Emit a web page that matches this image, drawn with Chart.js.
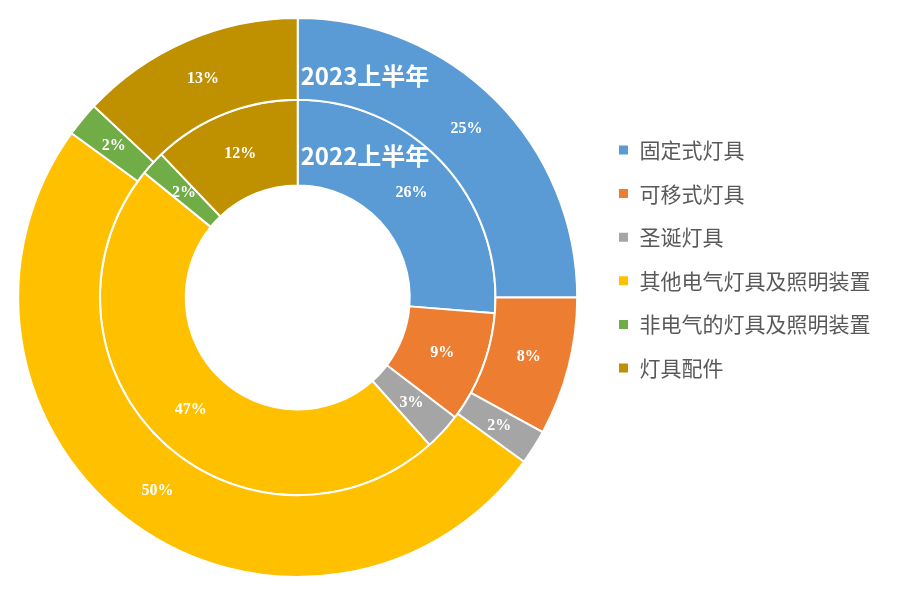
<!DOCTYPE html>
<html>
<head>
<meta charset="utf-8">
<script src="https://cdn.jsdelivr.net/npm/chart.js@4"></script>
<style>
body{margin:0;background:#fff;}
</style>
</head>
<body>
<canvas id="lampChart" width="900" height="589"></canvas>
<script>

const categories = ["固定式灯具","可移式灯具","圣诞灯具","其他电气灯具及照明装置","非电气的灯具及照明装置","灯具配件"];
const share2023 = [25,8,2,50,2,13];
const share2022 = [26,9,3,47,2,12];
const ringNames = ["2023上半年","2022上半年"];
const colors = ["#5B9BD5","#ED7D31","#A5A5A5","#FFC000","#70AD47","#BF9000"];

/* процентні підписи на сегментах */
const pctLabels = {
id:"pctLabels",
afterDatasetsDraw(chart){
const ctx = chart.ctx;
ctx.save();
ctx.fillStyle = "#ffffff";
ctx.font = "bold 16px 'Liberation Serif'";
ctx.textAlign = "center";
ctx.textBaseline = "middle";
chart.data.datasets.forEach((ds,di)=>{
const meta = chart.getDatasetMeta(di);
meta.data.forEach((arc,i)=>{
const p = arc.tooltipPosition();
ctx.fillText(ds.data[i] + "%", p.x, p.y);
});
});

/* назви кілець */
ctx.font = "bold 24px 'Noto Sans CJK SC'";
ctx.textAlign = "left";
const outer = chart.getDatasetMeta(0).data[0];
const inner = chart.getDatasetMeta(1).data[0];
ctx.fillText(ringNames[0], outer.x + 3, outer.y - (outer.innerRadius + 24));
ctx.fillText(ringNames[1], inner.x + 3, inner.y - (inner.innerRadius + 30));
ctx.restore();
}
};

new Chart(document.getElementById("lampChart"),{
type:"doughnut",
data:{
labels:categories,
datasets:[{
label:ringNames[0],
data:share2023,
backgroundColor:colors,
borderColor:"#ffffff",
borderWidth:2,
weight:82
},{
label:ringNames[1],
data:share2022,
backgroundColor:colors,
borderColor:"#ffffff",
borderWidth:2,
weight:86
}]
},
options:{
responsive:false,
animation:false,
cutout:112,
layout:{padding:{left:-9.4,right:19.5,top:17,bottom:11}},
plugins:{
tooltip:{enabled:false},
legend:{
position:"right",
align:"start",
title:{display:true,text:"",font:{size:1},padding:{top:98.7,bottom:0}},
labels:{
boxWidth:11,
boxHeight:11,
padding:22.6,
color:"#595959",
font:{size:21,family:"'Noto Sans CJK SC'"}
}
}
}
},
plugins:[pctLabels]
});

</script>
</body>
</html>
